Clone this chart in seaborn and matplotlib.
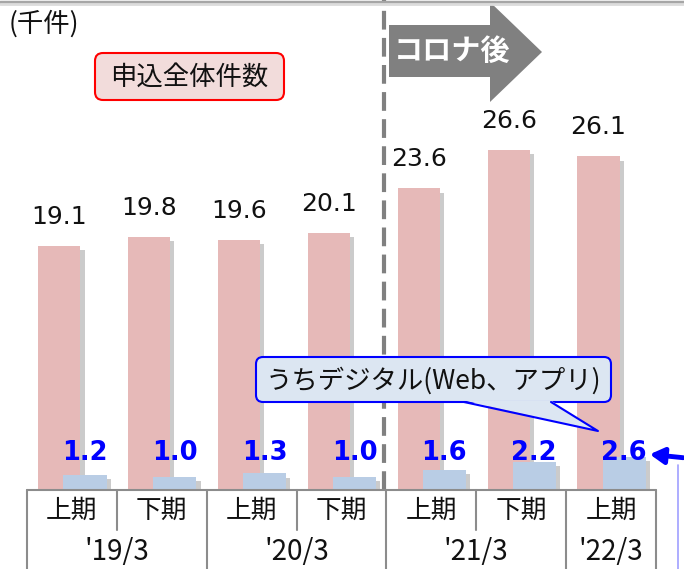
import matplotlib
matplotlib.use("Agg")
import matplotlib.pyplot as plt
import matplotlib.patheffects as pe
from matplotlib.patches import FancyBboxPatch, Polygon
import numpy as np
import pandas as pd
import seaborn as sns

# --- data -------------------------------------------------------------
halves = ["上期", "下期", "上期", "下期", "上期", "下期", "上期"]
years = ["'19/3", "'20/3", "'21/3", "'22/3"]
year_spans = [(0, 1), (2, 3), (4, 5), (6, 6)]
total_apps = [19.1, 19.8, 19.6, 20.1, 23.6, 26.6, 26.1]
digital_apps = [1.2, 1.0, 1.3, 1.0, 1.6, 2.2, 2.6]

sns.set_theme(style="white")
plt.rcParams["font.family"] = ["DejaVu Sans", "Noto Sans CJK JP"]
JP = ["Noto Sans CJK JP", "DejaVu Sans"]

W, H = 684, 569
fig = plt.figure(figsize=(W / 100, H / 100), dpi=100)
fig.patch.set_facecolor("white")

# plot area: bottom edge sits on the category table
left_px, right_px, base_px = 27, 656, 490
ax = fig.add_axes([left_px / W, (H - base_px) / H, (right_px - left_px) / W, base_px / H])
ax.set_facecolor("none")

idx = np.arange(len(total_apps))
pink_off, blue_off = -0.14, 0.145
df = pd.DataFrame({
    "pos_total": idx + pink_off,
    "pos_digital": idx + blue_off,
    "total": total_apps,
    "digital": digital_apps,
})

shadow = [pe.SimplePatchShadow(offset=(3, -3), shadow_rgbFace="#7f7f7f", alpha=0.4), pe.Normal()]

sns.barplot(data=df, x="pos_total", y="total", native_scale=True, orient="x",
            width=0.47, color="#e6b9b8", saturation=1, ax=ax, zorder=2)
n_pink = len(ax.patches)
sns.barplot(data=df, x="pos_digital", y="digital", native_scale=True, orient="x",
            width=0.48, color="#b9cde5", saturation=1, ax=ax, zorder=3)
for p in ax.patches:
    p.set_edgecolor("none")
    p.set_path_effects(shadow)
for p in ax.patches[n_pink:]:
    p.set_zorder(3)

px_per_unit = 12.78
ax.set_xlim(-0.5, len(total_apps) - 0.5)
ax.set_ylim(0, base_px / px_per_unit)
ax.set_axis_off()

# value labels
for x, v in zip(df["pos_total"], total_apps):
    ax.annotate(f"{v:.1f}", (x, v), xytext=(0, 15.8), textcoords="offset points",
                ha="center", va="baseline", fontsize=18, color="#111111")
blue_label_y = 30 / px_per_unit
for x, v in zip(df["pos_digital"], digital_apps):
    ax.text(x, blue_label_y, f"{v:.1f}", ha="center", va="baseline",
            fontsize=18.5, fontweight="bold", color="#0000ff", zorder=5)

# boundary between pre- and post-COVID periods
ax.axvline(3.47, ymin=0, ymax=1, color="#808080", lw=3, ls=(0, (4.5, 2)), zorder=4)

# --- category table below the plot ---------------------------------------
tx = ax.get_xaxis_transform()
row1 = -40 / base_px
row2 = -79 / base_px
edge_kw = dict(color="#8c8c8c", lw=1.5, transform=tx, clip_on=False, zorder=6)
ax.plot([-0.5, 6.5], [0, 0], **edge_kw)
for b in [-0.5, 1.5, 3.5, 5.5, 6.5]:
    ax.plot([b, b], [0, row2], **edge_kw)
for b in [0.5, 2.5, 4.5]:
    ax.plot([b, b], [0, row1], **edge_kw)
for i, lab in enumerate(halves):
    ax.text(i, -21 / base_px, lab, transform=tx, ha="center", va="center",
            fontsize=18.5, family=JP, color="#111111", clip_on=False)
for lab, (a, b) in zip(years, year_spans):
    ax.text((a + b) / 2, -62 / base_px, lab, transform=tx, ha="center", va="center",
            fontsize=20, family=JP, color="#111111", clip_on=False)

# --- overlay for annotations (pixel coordinates) --------------------------
ov = fig.add_axes([0, 0, 1, 1], zorder=10)
ov.set_xlim(0, W)
ov.set_ylim(H, 0)
ov.set_axis_off()
ov.patch.set_alpha(0)

# top frame edge
ov.plot([0, W], [1.5, 1.5], color="#a6a6a6", lw=2.5)
ov.plot([0, W], [4, 4], color="#dcdcdc", lw=2)

ov.text(9, 24, "(千件)", family=JP, fontsize=19, ha="left", va="center", color="#111111")

# legend-like label for total applications
ov.add_patch(FancyBboxPatch((95, 53), 189, 47, boxstyle="round,pad=0,rounding_size=8",
                            facecolor="#f2dcdb", edgecolor="#ff0000", lw=1.5))
ov.text(189.5, 77, "申込全体件数", family=JP, fontsize=19, ha="center", va="center", color="#111111")

# post-COVID arrow
ov.add_patch(Polygon([(389, 25), (490, 25), (490, 2), (542, 52), (490, 102), (490, 77), (389, 77)],
                     closed=True, facecolor="#808080", edgecolor="none"))
ov.text(452, 51, "コロナ後", family=JP, fontsize=21, fontweight="bold", color="white",
        ha="center", va="center")

# callout for digital applications
ov.add_patch(FancyBboxPatch((256, 357), 355, 45, boxstyle="round,pad=0,rounding_size=7",
                            facecolor="#dce6f2", edgecolor="#0000ff", lw=1.5))
ov.add_patch(Polygon([(464, 400.5), (551, 400.5), (598, 431)], closed=True,
                     facecolor="#dce6f2", edgecolor="none"))
ov.plot([464, 598, 551], [402, 431, 402], color="#0000ff", lw=1.5)
ov.text(433, 381, "うちデジタル(Web、アプリ)", family=JP, fontsize=19, ha="center", va="center",
        color="#111111")

# pointer from the right margin to the latest digital value
ov.annotate("", xy=(647, 454), xytext=(686, 458),
            arrowprops=dict(arrowstyle="-|>,head_length=0.7,head_width=0.4", color="#0000ff", lw=3.5))
ov.plot([678, 678], [465, H], color="#9f9fff", lw=1.2)

fig.savefig("out.png", dpi=100, facecolor="white")
